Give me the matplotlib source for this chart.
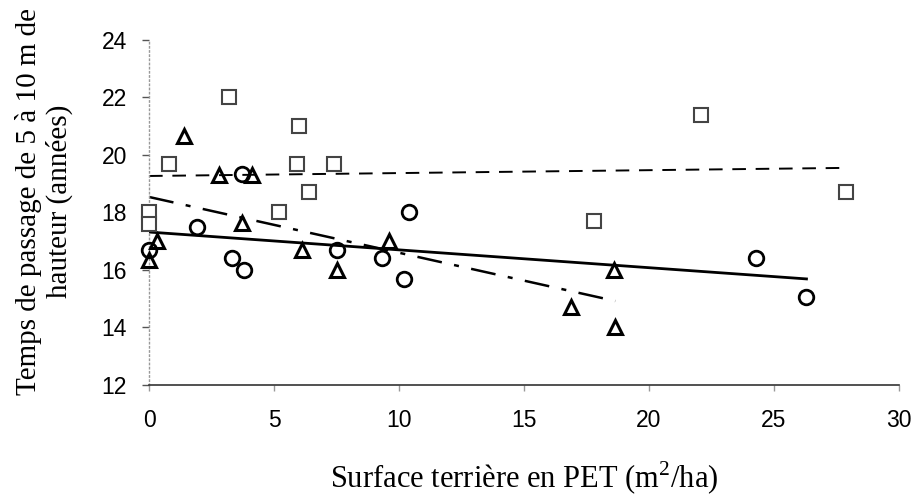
import matplotlib
matplotlib.use("Agg")
import matplotlib.pyplot as plt
import numpy as np

# carrés
sq_x = [0.0, 0.0, 0.8, 3.2, 5.2, 5.9, 6.0, 6.4, 7.4, 17.8, 22.1, 27.9]
sq_y = [18.0, 17.6, 19.7, 22.0, 18.0, 19.7, 21.0, 18.7, 19.7, 17.7, 21.4, 18.7]
# cercles
ci_x = [0.0, 1.9, 3.3, 3.8, 3.7, 7.5, 9.3, 10.2, 10.4, 24.3, 26.3]
ci_y = [16.7, 17.5, 16.4, 16.0, 19.35, 16.7, 16.4, 15.7, 18.0, 16.4, 15.05]
# triangles
tr_x = [0.0, 0.3, 1.4, 2.8, 4.1, 3.7, 6.1, 7.5, 9.6, 16.9, 18.6, 18.65]
tr_y = [16.35, 17.0, 20.65, 19.3, 19.3, 17.65, 16.7, 16.0, 17.0, 14.7, 16.0, 14.0]

# droites de tendance : (x début, x fin, ordonnée à l'origine, pente)
line_sq = (0.0, 27.7, 19.27, 0.0101)
line_ci = (0.0, 26.3, 17.32, -0.062)
line_tr = (0.0, 18.65, 18.54, -0.194)

xticks = [0, 5, 10, 15, 20, 25, 30]
yticks = [12, 14, 16, 18, 20, 22, 24]

plt.rcParams['mathtext.fontset'] = 'custom'
plt.rcParams['mathtext.rm'] = 'Liberation Serif'
plt.rcParams['font.family'] = 'Liberation Sans'

fig = plt.figure(figsize=(9.16, 5.03), dpi=100)
ax = fig.add_axes([0.1627, 0.2346, 0.8187, 0.6859])


def trend(ax, p, **kw):
    xs = np.array([p[0], p[1]])
    ax.plot(xs, p[2] + p[3] * xs, **kw)


trend(ax, line_sq, color='black', lw=1.4, dashes=(7, 5))
trend(ax, line_ci, color='black', lw=2.0)
trend(ax, line_tr, color='black', lw=1.8, dashes=(10, 5, 2, 5))

ax.plot(sq_x, sq_y, 's', ms=10.5, mfc='white', mec='#444444', mew=1.5,
        clip_on=False, zorder=3)
ax.plot(ci_x, ci_y, 'o', ms=10.5, mfc='none', mec='black', mew=2.0,
        clip_on=False, zorder=3)
ax.plot(tr_x, tr_y, '^', ms=10.5, mfc='none', mec='black', mew=2.2,
        clip_on=False, zorder=3)

ax.set_xlim(0, 30)
ax.set_ylim(12, 24)
ax.set_xticks(xticks)
ax.set_yticks(yticks)
ax.spines['top'].set_visible(False)
ax.spines['right'].set_visible(False)
ax.spines['left'].set_color('#999999')
ax.spines['left'].set_linestyle((0, (1, 2)))
ax.spines['left'].set_linewidth(1.0)
ax.spines['bottom'].set_color('#333333')
ax.spines['bottom'].set_linewidth(1.2)

ax.tick_params(axis='both', labelsize=16.5, labelcolor='black')
ax.tick_params(axis='y', direction='out', length=5, width=1, color='#555555', pad=11)
ax.tick_params(axis='x', direction='out', length=4, width=1, color='#999999', pad=13)

ax.set_xlabel('Surface terrière en PET (m$^2$/ha)', family='Liberation Serif',
              fontsize=22, labelpad=20)
fig.text(0.048, 0.600, 'Temps de passage de 5 à 10 m de\nhauteur (années)',
         rotation=90, ha='center', va='center', family='Liberation Serif',
         fontsize=21, linespacing=1.2, multialignment='center')

fig.savefig('out.png', dpi=100)
